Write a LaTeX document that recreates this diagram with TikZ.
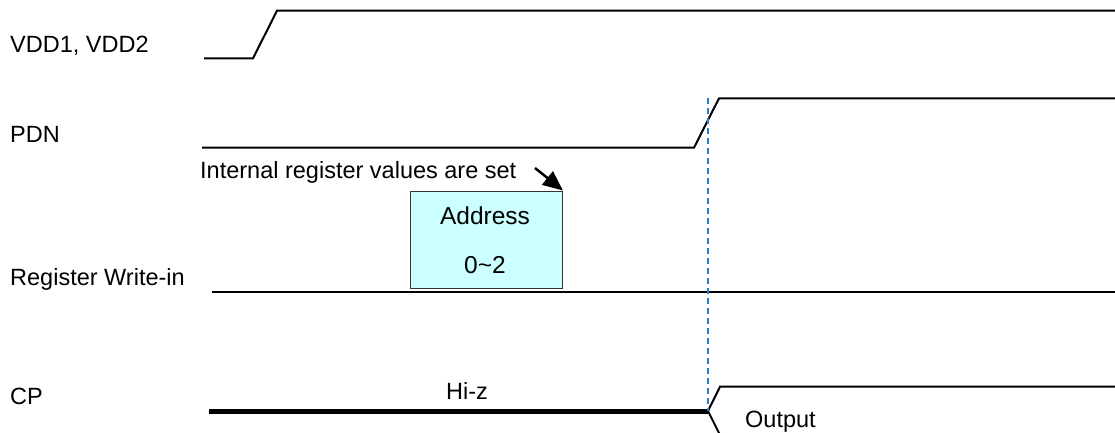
\documentclass[tikz,border=0pt]{standalone}
\usepackage{fontspec}
\setmainfont{Liberation Sans}
\usetikzlibrary{arrows.meta}
\definecolor{boxfill}{HTML}{CCFFFF}
\definecolor{dashblue}{HTML}{1F7FD6}
\begin{document}
\begin{tikzpicture}[x=1pt,y=-1pt,
  lbl/.style={anchor=base west,inner sep=0pt,font=\fontsize{23.5}{28}\selectfont},
  txt/.style={anchor=base,inner sep=0pt,font=\fontsize{23.5}{28}\selectfont},
  sig/.style={line width=2pt,line join=miter},
  bus/.style={line width=5pt},
  guide/.style={dashblue,line width=1.8pt,dash pattern=on 6pt off 4pt},
  regbox/.style={draw=black!80,fill=boxfill,line width=1.5pt,minimum width=152pt,minimum height=97pt,inner sep=0pt,anchor=north west}]
\useasboundingbox (0,0) rectangle (1115,432);
% labels
\node[lbl] (lvdd) at (10,52.5) {VDD1, VDD2};
\node[lbl] (lpdn) at (10,142) {PDN};
\node[lbl] (lreg) at (10,285) {Register Write-in};
\node[lbl] (lcp) at (10,404) {CP};
% VDD
\coordinate (v0) at (204,58.3);
\coordinate (v1) at (253,58.3);
\coordinate (v2) at (277,10.7);
\coordinate (v3) at (1115,10.7);
\draw[sig] (v0) -- (v1) -- (v2) -- (v3);
% PDN
\coordinate (p0) at (202,147.7);
\coordinate (p1) at (694,147.7);
\coordinate (p2) at (719,98.3);
\coordinate (p3) at (1115,98.3);
\draw[sig] (p0) -- (p1) -- (p2) -- (p3);
% Register write-in
\coordinate (r0) at (212,291.5);
\coordinate (r1) at (1115,291.5);
\draw[sig] (r0) -- (r1);
\node[regbox] (box) at (409.5,190.5) {};
\node[txt] (addr) at (485,224) {\fontsize{24.5}{28}\selectfont Address};
\node[txt] (num) at (485,273) {\fontsize{24.5}{28}\selectfont 0\char"007E 2};
\node[lbl] (note) at (200,178) {Internal register values are set};
\coordinate (a0) at (535,168);
\draw[line width=2.5pt,-{Triangle[length=20pt,width=17pt]}] (a0) -- (box.north east);
% CP
\coordinate (c0) at (209,411);
\coordinate (cj) at (708,411);
\coordinate (cu) at (720,386.7);
\coordinate (cu2) at (1115,386.7);
\coordinate (cd) at (720,435);
\draw[bus] (c0) -- (cj);
\draw[sig] (cu2) -- (cu) -- (cj) -- (cd);
\node[txt] (hiz) at (467,399) {Hi-z};
\node[lbl] (out) at (745,427) {Output};
% dashed guide
\coordinate (g0) at (708.3,98);
\coordinate (g1) at (708.3,411);
\draw[guide] (g0) -- (g1);
\end{tikzpicture}
\end{document}
